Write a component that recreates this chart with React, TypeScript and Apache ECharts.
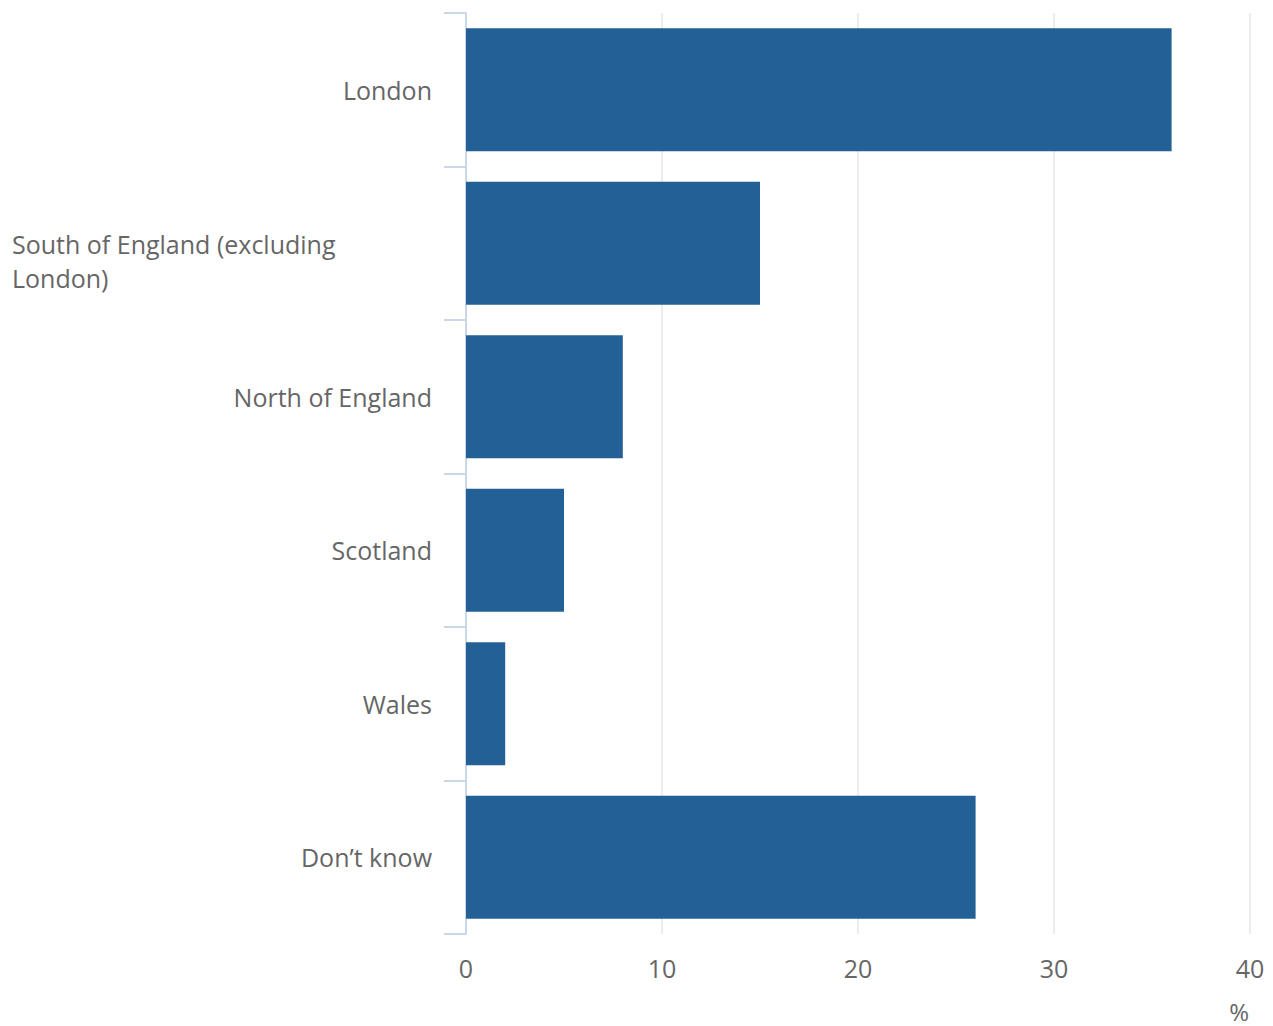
import React, { useEffect, useRef } from "react";
import * as echarts from "echarts";

const categories = [
  "London",
  "South of England (excluding London)",
  "North of England",
  "Scotland",
  "Wales",
  "Don’t know",
];
const values = [36, 15, 8, 5, 2, 26];
const xTicks = { min: 0, max: 40, interval: 10 };
const unitLabel = "%";

const FONT = "'Open Sans', 'Noto Sans', sans-serif";
const TEXT = "#666666";

export default function App() {
  const ref = useRef<HTMLDivElement>(null);
  useEffect(() => {
    if (!ref.current) return;
    const chart = echarts.init(ref.current, undefined, { renderer: "svg" });
    chart.setOption({
      animation: false,
      grid: {
        left: 466,
        right: 23,
        top: 13,
        bottom: 92,
        containLabel: false,
        outerBoundsMode: "none",
      },
      graphic: [
        {
          type: "text",
          right: 24,
          top: 999,
          style: {
            text: unitLabel,
            fill: TEXT,
            fontSize: 24,
            lineHeight: 21,
            fontFamily: FONT,
          },
        },
      ],
      xAxis: {
        type: "value",
        min: xTicks.min,
        max: xTicks.max,
        interval: xTicks.interval,
        axisLine: { show: false },
        axisTick: { show: false },
        splitLine: { show: true, lineStyle: { color: "#e6e6e6", width: 1.5 } },
        axisLabel: { color: TEXT, fontSize: 25, fontFamily: FONT, margin: 21 },
      },
      yAxis: {
        type: "category",
        data: categories,
        inverse: true,
        axisLine: { show: true, lineStyle: { color: "#ccd6eb", width: 2 } },
        axisTick: { show: true, length: 22, lineStyle: { color: "#ccd6eb", width: 2 } },
        axisLabel: {
          color: TEXT,
          fontSize: 25,
          fontFamily: FONT,
          margin: 34,
          formatter: (v: string) =>
            v.startsWith("South")
              ? "{s| }\n{w|South of England (excluding}\n{w|London)}"
              : v,
          rich: {
            s: {
              width: 420,
              fontSize: 10,
              lineHeight: 36,
            },
            w: {
              width: 420,
              align: "left",
              color: TEXT,
              fontSize: 25,
              fontFamily: FONT,
              lineHeight: 34,
            },
          },
        },
      },
      series: [
        {
          type: "bar",
          data: values,
          barCategoryGap: "20%",
          itemStyle: { color: "#226096" },
        },
      ],
    });
    return () => chart.dispose();
  }, []);
  return (
    <div
      ref={ref}
      style={{ position: "fixed", left: 0, top: 0, width: 1273, height: 1026, background: "#fff" }}
    />
  );
}
